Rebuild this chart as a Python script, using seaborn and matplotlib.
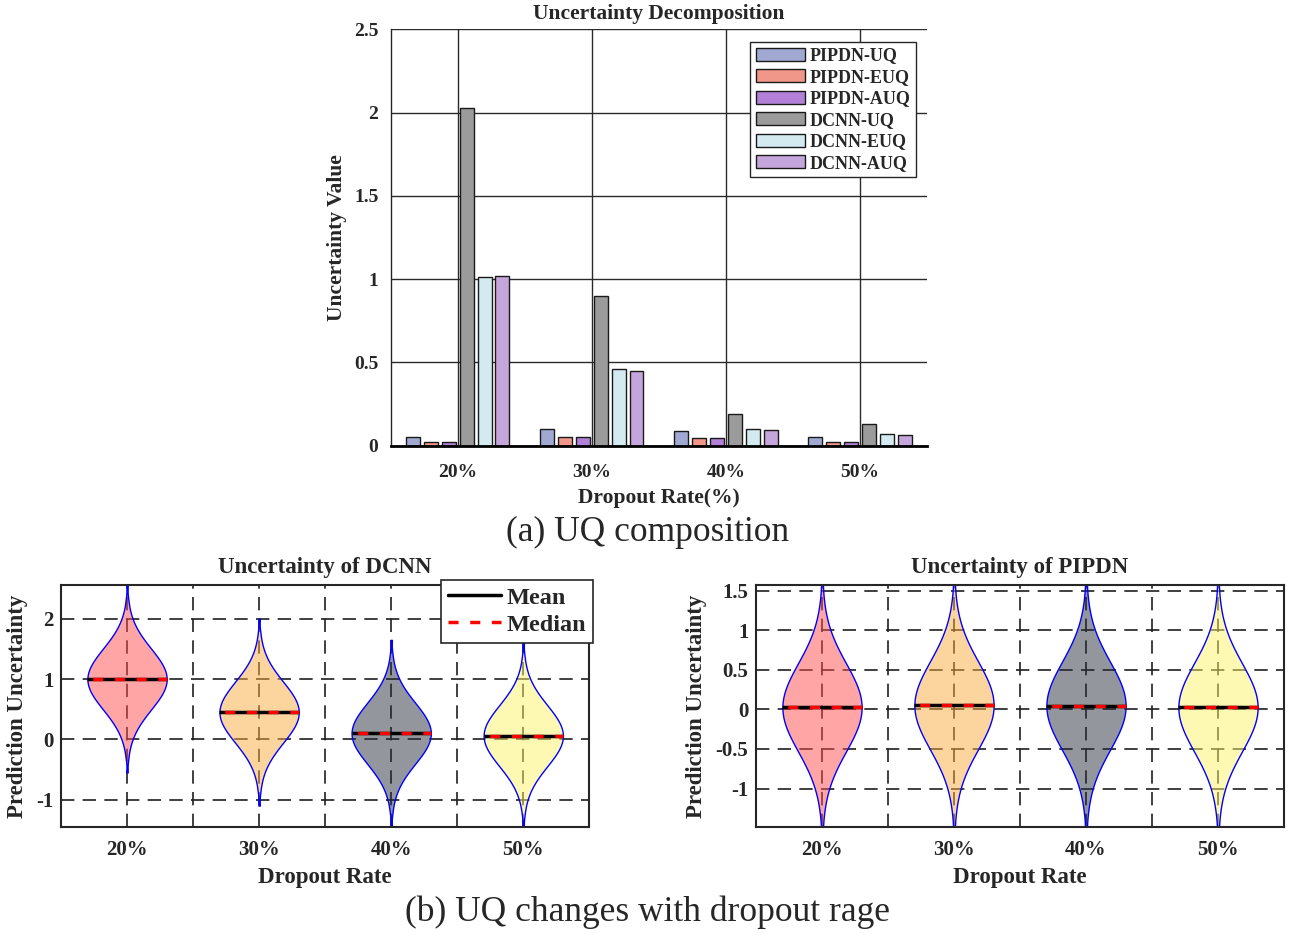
import numpy as np
import pandas as pd
import matplotlib
matplotlib.use("Agg")
import matplotlib.pyplot as plt
from matplotlib.lines import Line2D
from matplotlib.ticker import MultipleLocator, FixedLocator, FuncFormatter
from statistics import NormalDist
import seaborn as sns

# ---------------- data ----------------
rates = ["20%", "30%", "40%", "50%"]
series_names = ["PIPDN-UQ", "PIPDN-EUQ", "PIPDN-AUQ", "DCNN-UQ", "DCNN-EUQ", "DCNN-AUQ"]

pipdn_uq = [0.050, 0.100, 0.090, 0.050]
pipdn_euq = [0.025, 0.050, 0.045, 0.025]
pipdn_auq = [0.022, 0.054, 0.046, 0.022]
dcnn_uq = [2.03, 0.90, 0.19, 0.13]
dcnn_euq = [1.01, 0.46, 0.100, 0.070]
dcnn_auq = [1.02, 0.45, 0.095, 0.065]
bar_colors = ["#a1a8d2", "#f0978a", "#b280d6", "#9b9b9b", "#d2eaf0", "#c4a6dc"]

# per-rate summaries of the prediction-uncertainty distributions
dcnn_mean = [1.00, 0.45, 0.10, 0.06]
dcnn_median = [1.00, 0.45, 0.10, 0.06]
dcnn_sd = [0.50, 0.50, 0.50, 0.50]
dcnn_reach = [1.55, 1.55, 1.55, 1.55]

pipdn_mean = [0.025, 0.050, 0.045, 0.025]
pipdn_median = [0.025, 0.050, 0.045, 0.025]
pipdn_sd = [0.55, 0.55, 0.55, 0.55]
pipdn_reach = [1.55, 1.55, 1.55, 1.55]

violin_colors = [(1.00, 0.30, 0.30), (0.98, 0.67, 0.24), (0.16, 0.18, 0.24), (0.99, 0.95, 0.40)]
violin_alpha = 0.5

dcnn_ylim = (-1.46, 2.56)
pipdn_ylim = (-1.49, 1.57)
dcnn_yticks = [-1, 0, 1, 2]
pipdn_yticks = [-1, -0.5, 0, 0.5, 1, 1.5]
bar_yticks = [0, 0.5, 1, 1.5, 2, 2.5]

# ---------------- style ----------------
sns.set_style("white")
plt.rcParams["font.family"] = ["Liberation Serif", "DejaVu Serif"]
plt.rcParams["font.weight"] = "bold"
plt.rcParams["axes.labelweight"] = "bold"
plt.rcParams["axes.titleweight"] = "bold"

W, H = 1301, 933
fig = plt.figure(figsize=(W / 100, H / 100), dpi=100)


def px_axes(left, top, right, bottom):
    return fig.add_axes([left / W, 1 - bottom / H, (right - left) / W, (bottom - top) / H])


fmt = FuncFormatter(lambda v, p: f"{v:g}")

# ---------------- (a) bar chart ----------------
ax = px_axes(390.7, 29.3, 927, 445.7)
bar_table = pd.DataFrame(
    dict(zip(series_names, [pipdn_uq, pipdn_euq, pipdn_auq, dcnn_uq, dcnn_euq, dcnn_auq])),
    index=rates,
)
bar_long = bar_table.reset_index(names="rate").melt(id_vars="rate", var_name="series", value_name="value")
sns.barplot(
    data=bar_long, x="rate", y="value", hue="series", hue_order=series_names,
    palette=bar_colors, width=0.8, gap=0.22, edgecolor="#1a1a1a", linewidth=1.0,
    saturation=1, errorbar=None, ax=ax,
)
ax.set_axisbelow(True)
ax.grid(True, color="#2a2a2a", lw=1.0, ls="-")
ax.set_xlim(-0.5, 3.5)
ax.set_ylim(0, 2.5)
ax.yaxis.set_major_locator(FixedLocator(bar_yticks))
ax.yaxis.set_major_formatter(fmt)
for s in ["top", "right"]:
    ax.spines[s].set_visible(False)
ax.spines["left"].set_color("#262626")
ax.spines["left"].set_linewidth(1.0)
ax.spines["bottom"].set_color("black")
ax.spines["bottom"].set_linewidth(2.0)
ax.tick_params(direction="out", length=4, width=1, color="#262626", labelsize=14)
ax.tick_params(axis="x", pad=9)
ax.tick_params(axis="y", pad=4.8)
ax.set_xlabel("Dropout Rate(%)", fontsize=15.5, va="center")
ax.set_ylabel("Uncertainty Value", fontsize=15.5, va="center")
ax.xaxis.set_label_coords(0.5, -0.1255)
ax.yaxis.set_label_coords((337 - 390.7) / 536.3, 0.5)
ax.set_title("Uncertainty Decomposition", fontsize=15.5, y=(445.7 - 14) / 416.4, va="center", pad=0)
leg = ax.legend(
    loc="upper right", bbox_to_anchor=(0.9795, 0.9695), borderaxespad=0,
    prop={"family": "Liberation Serif", "weight": "bold", "size": 13},
    frameon=True, fancybox=False, edgecolor="#262626", framealpha=1,
    handlelength=2.75, handleheight=0.75, handletextpad=0.25, labelspacing=0.25, borderpad=0.3,
)
leg.get_frame().set_linewidth(1.0)

fig.text(647.5 / W, 1 - 532 / H, "(a) UQ composition", ha="center", va="center",
         fontsize=25.5, fontweight="normal")


# ---------------- (b) violin plots ----------------
def spread_sample(mu, sd, reach, n=401):
    dist = NormalDist(mu, sd)
    lo, hi = dist.cdf(mu - reach), dist.cdf(mu + reach)
    return [dist.inv_cdf(p) for p in np.linspace(lo, hi, n)]


def violin_panel(ax, means, medians, sds, reaches, ylim, yticks, title, with_legend):
    frames = []
    for rate, mu, sd, reach in zip(rates, means, sds, reaches):
        frames.append(pd.DataFrame({"rate": rate, "value": spread_sample(mu, sd, reach)}))
    df = pd.concat(frames, ignore_index=True)
    sns.violinplot(
        data=df, x="rate", y="value", hue="rate", order=rates, hue_order=rates,
        palette=violin_colors, legend=False, width=0.6, density_norm="width", cut=0,
        inner=None, linewidth=1.0, linecolor="blue", bw_adjust=0.5, saturation=1, ax=ax,
    )
    for coll in ax.collections:
        fc = coll.get_facecolor()
        if len(fc):
            c = fc[0].copy()
            c[3] = violin_alpha
            coll.set_facecolor(c)
    pos = np.arange(len(rates))
    ax.hlines(means, pos - 0.3, pos + 0.3, color="black", lw=2.5, zorder=5)
    ax.hlines(medians, pos - 0.3, pos + 0.3, color="red", lw=2.5, zorder=6,
              linestyles=[(4.6, (2.9, 3.35))])

    ax.set_axisbelow(True)
    ax.set_xlim(-0.5, 3.5)
    ax.set_ylim(*ylim)
    ax.xaxis.set_minor_locator(MultipleLocator(0.5))
    ax.yaxis.set_major_locator(FixedLocator(yticks))
    ax.yaxis.set_major_formatter(fmt)
    dash = (0, (8, 5))
    ax.grid(True, which="both", axis="x", color="#1f1f1f", lw=1.2, ls=dash)
    ax.grid(True, which="major", axis="y", color="#1f1f1f", lw=1.2, ls=dash)
    for s in ax.spines.values():
        s.set_visible(True)
        s.set_color("#262626")
        s.set_linewidth(1.5)
    ax.tick_params(which="major", direction="in", length=4, width=1, color="#262626", labelsize=15)
    ax.tick_params(which="minor", length=0)
    ax.tick_params(axis="x", pad=9.5)
    ax.tick_params(axis="y", pad=5.5)
    ax.set_xlabel("Dropout Rate", fontsize=16.5, va="center")
    ax.xaxis.set_label_coords(0.5, -0.2092)
    ax.set_ylabel("Prediction Uncertainty", fontsize=16.5, va="center")
    ax.set_title(title, fontsize=16.5, y=(827.3 - 568) / 242.3, va="center", pad=0)
    if with_legend:
        handles = [
            Line2D([], [], color="black", lw=2.5, ls="-"),
            Line2D([], [], color="red", lw=2.5, ls=(0, (2.9, 3.35))),
        ]
        lg = ax.legend(
            handles, ["Mean", "Median"], loc="upper right", bbox_to_anchor=(1.0064, 1.0206),
            borderaxespad=0, prop={"family": "Liberation Serif", "weight": "bold", "size": 17.5},
            frameon=True, fancybox=False, edgecolor="#262626", framealpha=1,
            handlelength=2.2, handletextpad=0.2, labelspacing=0.2, borderpad=0.28,
        )
        lg.get_frame().set_linewidth(1.2)
        lg.set_zorder(10)


ax_l = px_axes(61, 585, 589.3, 827.3)
violin_panel(ax_l, dcnn_mean, dcnn_median, dcnn_sd, dcnn_reach, dcnn_ylim, dcnn_yticks,
             "Uncertainty of DCNN", True)
ax_l.yaxis.set_label_coords((18 - 61) / 528.3, 0.5)

ax_r = px_axes(756, 585, 1284, 827.3)
violin_panel(ax_r, pipdn_mean, pipdn_median, pipdn_sd, pipdn_reach, pipdn_ylim, pipdn_yticks,
             "Uncertainty of PIPDN", False)
ax_r.yaxis.set_label_coords((696.5 - 756) / 528, 0.5)

fig.text(647.5 / W, 1 - 912 / H, "(b) UQ changes with dropout rage", ha="center", va="center",
         fontsize=25.5, fontweight="normal")

fig.savefig("out.png", dpi=100)
